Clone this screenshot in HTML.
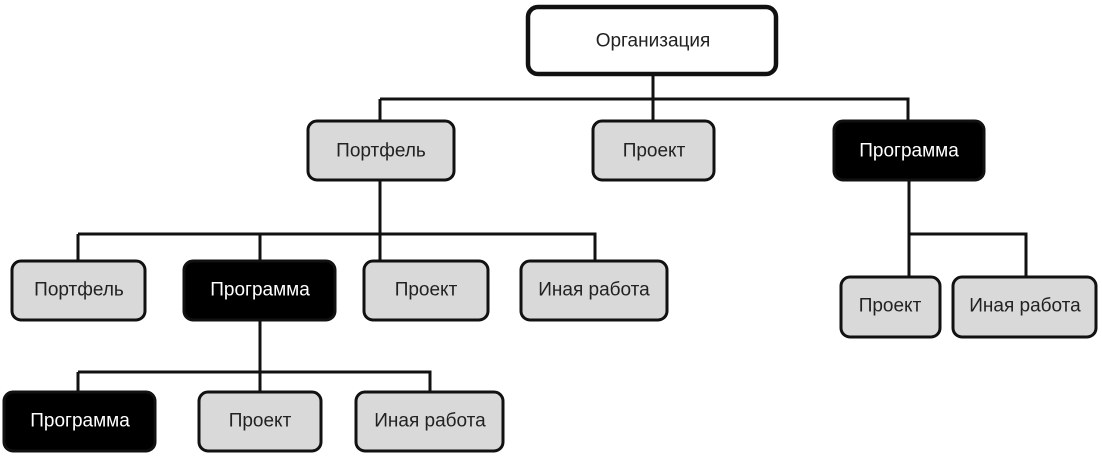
<!DOCTYPE html>
<html><head><meta charset="utf-8"><style>
html,body{margin:0;padding:0;background:#fff;}
svg{display:block;}
text{font-family:"Liberation Sans",sans-serif;font-size:19px;text-anchor:middle;dominant-baseline:central;}
</style></head><body>
<svg width="1102" height="456" viewBox="0 0 1102 456">
<g stroke="#111" stroke-width="3" fill="none">
<path d="M653 75V120 M380 99H908V120 M380 99V120"/>
<path d="M380 180V260 M78 234H595V260 M78 234V260 M260 234V260"/>
<path d="M260 320V391 M78 372H430V391 M78 372V391"/>
<path d="M909 181V276 M909 234H1026V276"/>
</g>
<g stroke="#111" stroke-width="3">
<rect x="528" y="7" width="248" height="67" rx="10" fill="#fff" stroke-width="4.5"/>
<rect x="308" y="121" width="146" height="59" rx="9" fill="#d9d9d9"/>
<rect x="593" y="121" width="121" height="59" rx="9" fill="#d9d9d9"/>
<rect x="834" y="121" width="150" height="59" rx="9" fill="#000"/>
<rect x="12" y="261" width="133" height="59" rx="9" fill="#d9d9d9"/>
<rect x="184" y="261" width="151" height="59" rx="9" fill="#000"/>
<rect x="364" y="261" width="124" height="59" rx="9" fill="#d9d9d9"/>
<rect x="521" y="261" width="146" height="59" rx="9" fill="#d9d9d9"/>
<rect x="4" y="392" width="151" height="59" rx="9" fill="#000"/>
<rect x="199" y="392" width="122" height="59" rx="9" fill="#d9d9d9"/>
<rect x="356" y="392" width="147" height="59" rx="9" fill="#d9d9d9"/>
<rect x="841" y="277" width="99" height="60" rx="9" fill="#d9d9d9"/>
<rect x="953" y="277" width="143" height="60" rx="9" fill="#d9d9d9"/>
</g>
<g fill="#222">
<text x="653" y="41">Организация</text>
<text x="381" y="151">Портфель</text>
<text x="654" y="151">Проект</text>
<text x="79" y="290">Портфель</text>
<text x="426" y="290">Проект</text>
<text x="594" y="290">Иная работа</text>
<text x="260" y="421">Проект</text>
<text x="430" y="421">Иная работа</text>
<text x="890" y="306">Проект</text>
<text x="1025" y="306">Иная работа</text>
</g>
<g fill="#fff">
<text x="909" y="151">Программа</text>
<text x="260" y="290">Программа</text>
<text x="80" y="421">Программа</text>
</g>
</svg>
</body></html>
